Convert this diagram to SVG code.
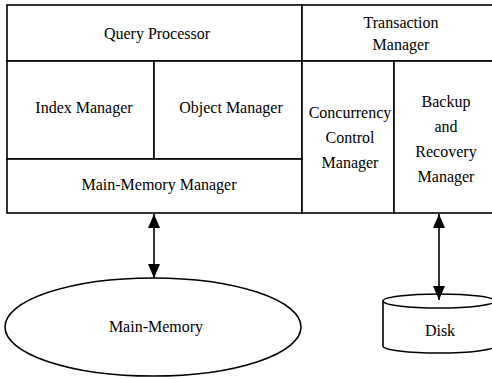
<svg xmlns="http://www.w3.org/2000/svg" width="492" height="379" viewBox="0 0 492 379">
  <style>
    .box { fill: #ffffff; stroke: #000000; stroke-width: 1.6; }
    .lbl { font-family: "Liberation Serif", "Times New Roman", "DejaVu Serif", serif; font-size: 16px; fill: #000000; text-anchor: middle; }
    .conn { stroke: #000000; stroke-width: 1.6; fill: none; }
  </style>
  <defs>
    <!-- filled triangular head, used at both ends of each link -->
    <marker id="arrowhead" viewBox="0 0 14 12" refX="14" refY="6" markerWidth="14" markerHeight="12" markerUnits="userSpaceOnUse" orient="auto-start-reverse">
      <path d="M0,0 L14,6 L0,12 Z" fill="#000000"/>
    </marker>
  </defs>
  <rect width="492" height="379" fill="#ffffff"/>

  <!-- system layers -->
  <g id="query-processor">
    <rect class="box" x="7" y="5" width="295" height="56"/>
    <text class="lbl" x="157" y="39">Query Processor</text>
  </g>
  <g id="transaction-manager">
    <rect class="box" x="302" y="5" width="200" height="56"/>
    <text class="lbl" x="401" y="28">Transaction</text>
    <text class="lbl" x="401" y="50">Manager</text>
  </g>
  <g id="index-manager">
    <rect class="box" x="7" y="61" width="147" height="98"/>
    <text class="lbl" x="84" y="113">Index Manager</text>
  </g>
  <g id="object-manager">
    <rect class="box" x="154" y="61" width="148" height="98"/>
    <text class="lbl" x="231" y="113">Object Manager</text>
  </g>
  <g id="main-memory-manager">
    <rect class="box" x="7" y="159" width="295" height="54"/>
    <text class="lbl" x="159" y="190">Main-Memory Manager</text>
  </g>
  <g id="concurrency-control-manager">
    <rect class="box" x="302" y="61" width="92" height="152"/>
    <text class="lbl" x="350" y="118">Concurrency</text>
    <text class="lbl" x="350" y="143">Control</text>
    <text class="lbl" x="350" y="168">Manager</text>
  </g>
  <g id="backup-recovery-manager">
    <rect class="box" x="394" y="61" width="108" height="152"/>
    <text class="lbl" x="446" y="107">Backup</text>
    <text class="lbl" x="446" y="132">and</text>
    <text class="lbl" x="446" y="157">Recovery</text>
    <text class="lbl" x="446" y="182">Manager</text>
  </g>

  <!-- storage -->
  <g id="main-memory">
    <ellipse class="box" cx="153" cy="327" rx="148" ry="49"/>
    <text class="lbl" x="156" y="332">Main-Memory</text>
  </g>
  <g id="disk">
    <path class="box" d="M383,301 L383,346 A56,7 0 0 0 495,346 L495,301"/>
    <ellipse class="box" cx="439" cy="301" rx="56" ry="7"/>
    <text class="lbl" x="440" y="336">Disk</text>
  </g>

  <!-- connectors -->
  <g id="connectors">
    <line class="conn" x1="154" y1="214" x2="154" y2="278" marker-start="url(#arrowhead)" marker-end="url(#arrowhead)"/>
    <line class="conn" x1="439" y1="214" x2="439" y2="300" marker-start="url(#arrowhead)" marker-end="url(#arrowhead)"/>
  </g>
</svg>
